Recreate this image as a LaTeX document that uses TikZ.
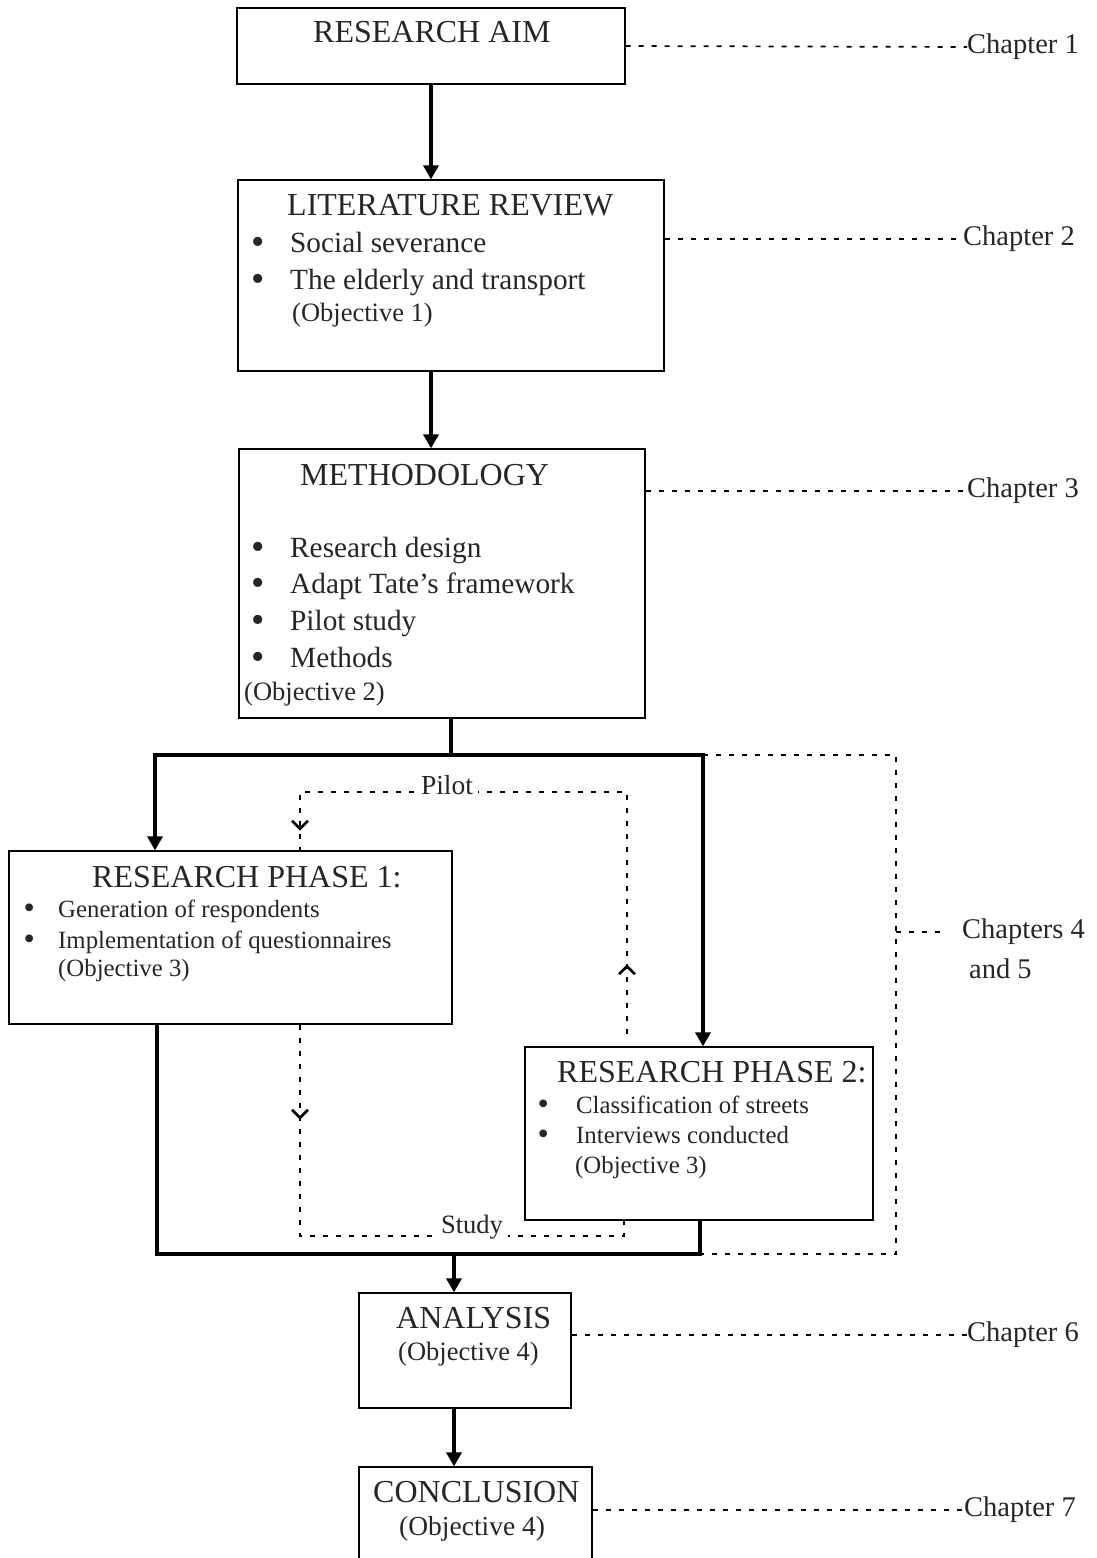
\documentclass[tikz,border=0pt]{standalone}
\usepackage{fontspec}
\setmainfont{Liberation Serif}
\usetikzlibrary{arrows.meta,positioning,decorations.markings}

\newcommand\bigbul{\raisebox{-0.08em}{\scalebox{1.3}{\textbullet}}}

\begin{document}
\begin{tikzpicture}[x=1pt,y=-1pt]
\tikzset{
  basic/.style = {draw, rectangle, line width=1.3pt, inner sep=0pt},
  txt/.style   = {anchor=base west, inner sep=0pt, text=black!85},
  head/.style  = {txt, font=\fontsize{32}{38}\selectfont},
  item/.style  = {txt, font=\fontsize{29.3}{35}\selectfont},
  note/.style  = {txt, font=\fontsize{26.5}{31}\selectfont},
  small/.style = {txt, font=\fontsize{24.8}{29}\selectfont},
  chap/.style  = {anchor=west, inner sep=0pt, text=black!85,
                  font=\fontsize{28.5}{34}\selectfont},
  tri/.tip     = {Triangle[length=14pt,width=15pt]},
  barb/.tip    = {Straight Barb[length=8pt,width=16pt,line width=2.6pt]},
  flow/.style  = {line width=3.6pt, -tri},
  link/.style  = {line width=1.7pt, dash pattern=on 5pt off 8pt}
}
\useasboundingbox (0,0) rectangle (1096,1558);

% boxes
\node[basic, minimum width=388pt, minimum height=76pt]  (aim)  at (431,46)     {};
\node[basic, minimum width=426pt, minimum height=191pt] (lit)  at (451,275.5)  {};
\node[basic, minimum width=406pt, minimum height=269pt] (meth) at (442,583.5)  {};
\node[basic, minimum width=443pt, minimum height=173pt] (p1)   at (230.5,937.5){};
\node[basic, minimum width=348pt, minimum height=173pt] (p2)   at (699,1133.5) {};
\node[basic, minimum width=212pt, minimum height=115pt] (ana)  at (465,1350.5) {};
\node[basic, minimum width=233pt, minimum height=98pt]  (con)  at (475.5,1516) {};

% box texts
\node[head] (aimt) at (313,42) {RESEARCH AIM};

\node[head] (litt) at (287,215) {LITERATURE REVIEW};
\node[item] (lit1) at (258,252) {\makebox[0pt]{\bigbul}\hspace{32pt}Social severance};
\node[item] (lit2) at (258,289) {\makebox[0pt]{\bigbul}\hspace{32pt}The elderly and transport};
\node[note] (lito) at (292,321) {(Objective 1)};

\node[head] (metht) at (300,485) {METHODOLOGY};
\node[item] (meth1) at (258,557) {\makebox[0pt]{\bigbul}\hspace{32pt}Research design};
\node[item] (meth2) at (258,593) {\makebox[0pt]{\bigbul}\hspace{32pt}Adapt Tate's framework};
\node[item] (meth3) at (258,630) {\makebox[0pt]{\bigbul}\hspace{32pt}Pilot study};
\node[item] (meth4) at (258,667) {\makebox[0pt]{\bigbul}\hspace{32pt}Methods};
\node[note] (metho) at (244,700) {(Objective 2)};

\node[head]  (p1t) at (92,887) {RESEARCH PHASE 1:};
\node[small] (p11) at (29,917) {\makebox[0pt]{\bigbul}\hspace{29pt}Generation of respondents};
\node[small] (p12) at (29,948) {\makebox[0pt]{\bigbul}\hspace{29pt}Implementation of questionnaires};
\node[small] (p1o) at (58,976) {(Objective 3)};

\node[head]  (p2t) at (557,1082) {RESEARCH PHASE 2:};
\node[small] (p21) at (543,1113) {\makebox[0pt]{\bigbul}\hspace{33pt}Classification of streets};
\node[small] (p22) at (543,1143) {\makebox[0pt]{\bigbul}\hspace{33pt}Interviews conducted};
\node[small] (p2o) at (575,1173) {(Objective 3)};

\node[head] (anat) at (396,1328) {ANALYSIS};
\node[note] (anao) at (398,1360) {(Objective 4)};

\node[head] (cont) at (373,1502) {CONCLUSION};
\node[note, font=\fontsize{27.5}{32}\selectfont] (cono) at (399,1535) {(Objective 4)};

% chapter labels
\node[chap] (ch1) at (967,47)   {Chapter 1};
\node[chap] (ch2) at (963,239)  {Chapter 2};
\node[chap] (ch3) at (967,491)  {Chapter 3};
\node[chap] (ch45) at (962,932) {Chapters 4};
\node[txt, font=\fontsize{28.5}{34}\selectfont] (and5) at (969,978) {and 5};
\node[chap] (ch6) at (967,1335) {Chapter 6};
\node[chap] (ch7) at (964,1510) {Chapter 7};

% junctions
\coordinate (split) at (451,755);
\coordinate (jl)    at (155,755);
\coordinate (jr)    at (703,755);
\coordinate (jl2)   at (157,1254);
\coordinate (jr2)   at (700,1254);
\coordinate (merge) at (454,1254);
\coordinate (c45a)  at (896,755);
\coordinate (c45b)  at (896,1254);
\coordinate (pr)    at (627,792);
\coordinate (pl)    at (300,792);
\coordinate (sl)    at (300,1236);
\coordinate (sr)    at (624,1236);

% main flow
\draw[flow] (aim.south) -- (aim.south |- lit.north);
\draw[flow] (aim.south |- lit.south) -- (aim.south |- meth.north);
\draw[line width=3.6pt] (split |- meth.south) -- (split);
\draw[flow, tri-tri] (jl |- p1.north) -- (jl) -- (jr) -- (jr |- p2.north);
\draw[line width=3.6pt] (jl2 |- p1.south) -- (jl2) -- (jr2) -- (jr2 |- p2.south);
\draw[flow] (merge) -- (merge |- ana.north);
\draw[flow] (merge |- ana.south) -- (merge |- con.north);

% pilot and study loops
\draw[link, shorten <=12pt, decoration={markings,
    mark=at position 82pt with {\arrow{barb}},
    mark=at position 620pt with {\arrow{barb}}}, postaction={solid, decorate}]
  (p2.north -| pr) -- (pr) -- (pl) -- (pl |- p1.north);
\node[note, anchor=base, fill=white, inner xsep=5pt, inner ysep=2pt,
      font=\fontsize{27.5}{32}\selectfont] (pilot) at (447,794) {Pilot};

\draw[link, decoration={markings,
    mark=at position 95pt with {\arrow{barb}}}, postaction={solid, decorate}]
  (p1.south -| sl) -- (sl) -- (sr) -- (sr |- p2.south);
\node[note, anchor=base, fill=white, inner xsep=5pt, inner ysep=2pt] (study) at (472,1233) {Study};

% chapter links
\draw[link] (aim.east) -- (ch1.west);
\draw[link] (lit.east |- ch2.west) -- (ch2.west);
\draw[link] (meth.east |- ch3.west) -- (ch3.west);
\draw[link] (jr) -- (c45a) -- (c45b) -- (jr2);
\draw[link, shorten >=17pt] (c45a |- ch45.west) -- (ch45.west);
\draw[link] (ana.east |- ch6.west) -- (ch6.west);
\draw[link] (con.east |- ch7.west) -- (ch7.west);
\end{tikzpicture}
\end{document}
